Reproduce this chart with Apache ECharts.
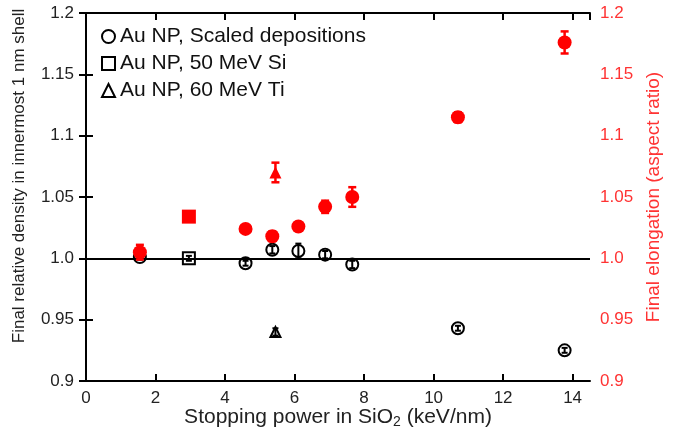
<!DOCTYPE html>
<html>
<head>
<meta charset="utf-8">
<script src="https://cdn.jsdelivr.net/npm/echarts@6/dist/echarts.min.js"></script>
<style>html,body{margin:0;padding:0;background:#fff}#c{width:674px;height:440px}</style>
</head>
<body>
<div id="c"></div>
<script>
// Scaled depositions (circles)
const stoppingScaled = [1.55, 4.59, 5.36, 6.11, 6.88, 7.66, 10.7, 13.77];
const densityScaled = [1.001, 0.996, 1.007, 1.006, 1.003, 0.995, 0.943, 0.925];
const densityScaledErr = [0.002, 0.002, 0.003, 0.006, 0.003, 0.003, 0.002, 0.002];
const elongScaled = [1.005, 1.024, 1.018, 1.026, 1.042, 1.050, 1.115, 1.176];
const elongScaledErr = [0.006, 0.002, 0.004, 0.003, 0.005, 0.008, 0.004, 0.009];
// 50 MeV Si (square)
const stoppingSi = [2.96];
const densitySi = [1.000];
const densitySiErr = [0.002];
const elongSi = [1.034];
// 60 MeV Ti (triangle)
const stoppingTi = [5.45];
const densityTi = [0.940];
const densityTiErr = [0.003];
const elongTi = [1.070];
const elongTiErr = [0.008];
// axis ticks
const xTicks = [0, 2, 4, 6, 8, 10, 12, 14];
const yTicks = [0.9, 0.95, 1.0, 1.05, 1.1, 1.15, 1.2];

const legendNames = ['Au NP, Scaled depositions', 'Au NP, 50 MeV Si', 'Au NP, 60 MeV Ti'];
const RED = '#ff0000';
const FONT = 'Liberation Sans, Arial, sans-serif';

const pairs = (xs, ys) => xs.map((x, i) => [x, ys[i]]);
const triples = (xs, ys, es) => xs.map((x, i) => [x, ys[i], es[i]]);

function errSeries(xs, ys, es, color, yIdx, lw, capW) {
  return {
    type: 'custom', xAxisIndex: 0, yAxisIndex: yIdx, silent: true, z: 6,
    data: triples(xs, ys, es),
    renderItem: function (params, api) {
      const x = api.value(0), y = api.value(1), e = api.value(2);
      const t = api.coord([x, y + e]);
      const b = api.coord([x, y - e]);
      const hw = capW / 2;
      const st = { stroke: color, lineWidth: lw };
      return {
        type: 'group', children: [
          { type: 'line', shape: { x1: t[0], y1: t[1], x2: b[0], y2: b[1] }, style: st },
          { type: 'line', shape: { x1: t[0] - hw, y1: t[1], x2: t[0] + hw, y2: t[1] }, style: st },
          { type: 'line', shape: { x1: b[0] - hw, y1: b[1], x2: b[0] + hw, y2: b[1] }, style: st }
        ]
      };
    }
  };
}

const yFmt = v => {
  const r = Math.round(v * 100) / 100;
  return (Math.round(r * 100) % 10 === 0) ? r.toFixed(1) : r.toFixed(2);
};

const chart = echarts.init(document.getElementById('c'), null, { renderer: 'canvas' });
const openStyle = { color: '#ffffff', borderColor: '#000', borderWidth: 2, opacity: 1 };
const redStyle = { color: RED, opacity: 1 };

chart.setOption({
  animation: false,
  backgroundColor: '#fff',
  textStyle: { fontFamily: FONT },
  grid: { left: 86, right: 84, top: 13, bottom: 59 },
  legend: {
    data: legendNames,
    orient: 'vertical',
    left: 96, top: 21,
    itemWidth: 13, itemHeight: 13,
    itemGap: 6,
    textStyle: { fontSize: 21, color: '#111', fontFamily: FONT },
    selectedMode: false
  },
  xAxis: [{
    type: 'value', min: 0, max: 14.5, interval: 2, position: 'bottom',
    axisLine: { lineStyle: { color: '#000', width: 2 } },
    axisTick: { inside: true, length: 7, lineStyle: { color: '#000', width: 2 } },
    axisLabel: { fontSize: 17, color: '#222', margin: 9, showMaxLabel: false,
      formatter: v => (Math.abs(v - Math.round(v)) < 1e-6 ? String(Math.round(v)) : '') },
    splitLine: { show: false },
    name: '{a|Stopping power in SiO}{s|2}{a| (keV/nm)}',
    nameLocation: 'middle', nameGap: 24, nameMoveOverlap: false,
    nameTextStyle: {
      rich: {
        a: { fontSize: 21, color: '#222', fontFamily: FONT },
        s: { fontSize: 14, color: '#222', fontFamily: FONT, padding: [10, 0, 0, 0] }
      }
    }
  }, {
    type: 'value', min: 0, max: 14.5, interval: 2, position: 'top',
    axisLine: { lineStyle: { color: '#000', width: 2 } },
    axisTick: { inside: true, length: 7, lineStyle: { color: '#000', width: 2 } },
    axisLabel: { show: false },
    splitLine: { show: false }
  }],
  yAxis: [{
    type: 'value', min: 0.9, max: 1.2, interval: 0.05, position: 'left',
    axisLine: { show: true, lineStyle: { color: '#000', width: 2 } },
    axisTick: { show: true, inside: true, length: 7, lineStyle: { color: '#000', width: 2 } },
    axisLabel: { fontSize: 17, color: '#222', margin: 12, formatter: yFmt },
    splitLine: { show: false },
    name: 'Final relative density in innermost 1 nm shell',
    nameLocation: 'middle', nameGap: 58,
    nameTextStyle: { fontSize: 17, color: '#222', padding: [0, 0, 0, 42] }
  }, {
    type: 'value', min: 0.9, max: 1.2, interval: 0.05, position: 'right',
    axisLine: { show: true, lineStyle: { color: '#000', width: 2 } },
    axisTick: { show: true, inside: true, length: 7, lineStyle: { color: '#000', width: 2 } },
    axisLabel: { fontSize: 17, color: '#ff3333', margin: 10, formatter: yFmt },
    splitLine: { show: false },
    name: 'Final elongation (aspect ratio)',
    nameLocation: 'middle', nameGap: 52,
    nameTextStyle: { fontSize: 19, color: '#ff3333' }
  }],
  series: [
    {
      name: legendNames[0], type: 'scatter', xAxisIndex: 0, yAxisIndex: 0,
      symbol: 'circle', symbolSize: 12, itemStyle: openStyle, z: 3,
      data: pairs(stoppingScaled, densityScaled),
      markLine: {
        silent: true, symbol: ['none', 'none'], label: { show: false },
        lineStyle: { color: '#000', width: 2, type: 'solid' },
        data: [{ yAxis: 1.0 }]
      }
    },
    {
      name: legendNames[1], type: 'scatter', xAxisIndex: 0, yAxisIndex: 0,
      symbol: 'rect', symbolSize: 12, itemStyle: openStyle, z: 3,
      data: pairs(stoppingSi, densitySi)
    },
    {
      name: legendNames[2], type: 'scatter', xAxisIndex: 0, yAxisIndex: 0,
      symbol: 'triangle', symbolSize: 10, itemStyle: openStyle, z: 3,
      data: pairs(stoppingTi, densityTi)
    },
    errSeries(stoppingScaled, densityScaled, densityScaledErr, '#000', 0, 2, 6),
    errSeries(stoppingSi, densitySi, densitySiErr, '#000', 0, 2, 6),
    errSeries(stoppingTi, densityTi, densityTiErr, '#000', 0, 2, 6),
    {
      name: 'elong-scaled', type: 'scatter', xAxisIndex: 0, yAxisIndex: 1,
      symbol: 'circle', symbolSize: 14, itemStyle: redStyle, z: 7,
      data: pairs(stoppingScaled, elongScaled)
    },
    {
      name: 'elong-si', type: 'scatter', xAxisIndex: 0, yAxisIndex: 1,
      symbol: 'rect', symbolSize: 14, itemStyle: redStyle, z: 7,
      data: pairs(stoppingSi, elongSi)
    },
    {
      name: 'elong-ti', type: 'scatter', xAxisIndex: 0, yAxisIndex: 1,
      symbol: 'triangle', symbolSize: 12, itemStyle: redStyle, z: 7,
      data: pairs(stoppingTi, elongTi)
    },
    Object.assign(errSeries(stoppingScaled, elongScaled, elongScaledErr, RED, 1, 2.5, 8), { z: 8 }),
    Object.assign(errSeries(stoppingTi, elongTi, elongTiErr, RED, 1, 2.5, 8), { z: 8 })
  ]
});
</script>
</body>
</html>
